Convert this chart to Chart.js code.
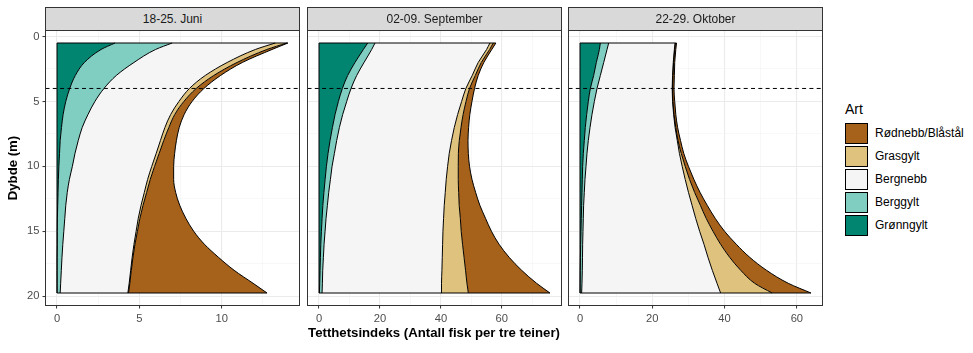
<!DOCTYPE html>
<html>
<head>
<meta charset="utf-8">
<script src="https://cdn.jsdelivr.net/npm/chart.js@4.4.1/dist/chart.umd.min.js"></script>
<style>
html,body{margin:0;padding:0;background:#fff;}
body{width:973px;height:353px;position:relative;overflow:hidden;font-family:'Liberation Sans',Arial,Helvetica,sans-serif;}
canvas{position:absolute;top:0;}
.strip{position:absolute;top:7px;height:24px;width:255px;box-sizing:border-box;border:1px solid #333333;background:#D9D9D9;color:#1A1A1A;font-size:12px;text-align:center;line-height:22px;z-index:2;}
.xtitle{position:absolute;left:45px;width:778px;top:325px;text-align:center;font-weight:bold;font-size:13.2px;line-height:16px;color:#000;}
.ltitle{position:absolute;left:845px;top:102px;font-size:14px;line-height:14px;color:#000;}
.lkey{position:absolute;left:845px;width:23px;height:21px;box-sizing:border-box;border:1px solid #000;}
.llab{position:absolute;left:875px;height:21px;line-height:21px;font-size:12px;color:#000;white-space:nowrap;}
</style>
</head>
<body>
<canvas id="c1" width="302" height="330" style="left:0px;width:302px;height:330px"></canvas>
<canvas id="c2" width="259" height="330" style="left:305px;width:259px;height:330px"></canvas>
<canvas id="c3" width="259" height="330" style="left:566px;width:259px;height:330px"></canvas>
<div id="strips"></div>
<div class="xtitle">Tetthetsindeks (Antall fisk per tre teiner)</div>
<div id="legend"></div>
<script>
// ---------- data ----------
const depths = [0.5,1,2,3,4,5,6,7,8,9,10,11,12,13,14,15,16,17,18,19,19.75];
const species = ['Grønngylt','Berggylt','Bergnebb','Grasgylt','Rødnebb/Blåstål'];
const speciesColors = ['#018571','#80CDC1','#F5F5F5','#DFC27D','#A6611A'];
const periods = ['18-25. Juni','02-09. September','22-29. Oktober'];
const refDepth = 4;

const gronngyltJuni = [3.52,2.67,1.66,1.11,0.77,0.53,0.37,0.27,0.19,0.15,0.11,0.08,0.06,0.04,0.02,0.01,0.01,0,0,0,0];
const berggyltJuni  = [3.47,3.31,3.01,2.49,2.08,1.77,1.51,1.26,1.10,0.94,0.82,0.67,0.56,0.49,0.45,0.40,0.34,0.30,0.26,0.22,0.19];
const bergnebbJuni  = [6.26,6.06,5.66,5.40,5.19,5.10,5.02,5.02,4.99,4.93,4.82,4.75,4.68,4.57,4.46,4.39,4.32,4.26,4.21,4.16,4.11];
const grasgyltJuni  = [0.70,0.70,0.60,0.52,0.41,0.30,0.25,0.24,0.20,0.18,0.17,0.16,0.14,0.12,0.10,0.08,0.06,0.05,0.04,0.04,0.04];
const rodnebbJuni   = [0.07,0.31,0.32,0.41,0.47,0.50,0.57,0.63,0.77,0.94,1.16,1.42,1.76,2.23,2.79,3.42,4.22,5.19,6.24,7.48,8.41];

const gronngyltSep = [15.97,14.55,11.8,9.4,7.66,6.35,5.26,4.4,3.62,2.96,2.42,2.0,1.6,1.25,1.0,0.78,0.58,0.45,0.34,0.23,0.12];
const berggyltSep  = [2.40,2.73,2.97,2.96,2.84,2.73,2.51,2.28,2.18,2.08,1.85,1.73,1.58,1.49,1.30,1.20,1.07,0.98,0.87,0.87,0.87];
const bergnebbSep  = [37.71,37.72,37.48,37.93,37.70,37.72,37.73,37.72,37.70,37.70,37.93,38.02,38.25,38.36,38.58,38.69,38.91,39.02,39.13,39.10,39.21];
const grasgyltSep  = [1.1,1.0,1.0,1.0,1.2,1.45,1.8,2.2,2.55,3.0,3.5,3.95,4.4,4.9,5.5,6.0,6.55,7.15,7.75,8.35,8.8];
const rodnebbSep   = [0.87,0.70,0.85,0.96,1.65,1.95,2.20,2.50,2.85,3.26,3.70,4.50,5.57,6.80,8.27,9.93,11.99,14.80,18.41,22.85,26.80];

const gronngyltOkt = [5.62,5.35,4.51,3.77,2.85,2.29,1.83,1.46,1.18,0.91,0.72,0.63,0.54,0.44,0.35,0.26,0.17,0.10,0.05,0.02,0];
const berggyltOkt  = [2.31,2.12,2.04,1.85,1.85,1.67,1.48,1.30,1.11,1.01,0.93,0.74,0.64,0.55,0.55,0.55,0.55,0.58,0.58,0.52,0.44];
const bergnebbOkt  = [18.37,18.63,19.25,19.98,20.80,21.64,22.59,23.54,24.61,25.58,26.62,27.73,28.82,30.01,31.10,32.29,33.58,34.72,35.97,37.36,38.46];
const grasgyltOkt  = [0.1,0.1,0.1,0.1,0.1,0.1,0.1,0.2,0.2,0.5,0.83,1.2,1.7,2.3,2.9,3.7,4.6,6.0,7.85,10.4,14.25];
const rodnebbOkt   = [0.3,0.3,0.3,0.4,0.4,0.5,0.5,0.5,0.7,0.7,0.9,1.2,1.5,1.9,2.5,3.2,4.35,5.55,7.15,9.3,10.75];

const yTicks = [0,2.5,5,7.5,10,12.5,15,17.5,20];
const yTickLabels = ['0','','5','','10','','15','','20'];
const xTicksJuni = [0,2.5,5,7.5,10,12.5];
const xTickLabelsJuni = ['0','','5','','10',''];
const xTicksSep = [0,10,20,30,40,50,60,70];
const xTickLabelsSep = ['0','','20','','40','','60',''];
const xTicksOkt = [0,10,20,30,40,50,60];
const xTickLabelsOkt = ['0','','20','','40','','60'];

// ---------- rendering ----------
Chart.defaults.font.family = "'Liberation Sans', Arial, Helvetica, sans-serif";

const decor = {
  id: 'decor',
  afterDatasetsDraw(chart) {
    const {ctx, chartArea: a, scales: {x, y}} = chart;
    const outer = chart.getDatasetMeta(chart.data.datasets.length - 1).data;
    const x0 = x.getPixelForValue(0);
    const first = outer[0], last = outer[outer.length - 1];
    ctx.save();
    ctx.beginPath(); ctx.rect(a.left, a.top, a.width, a.height); ctx.clip();
    ctx.strokeStyle = '#000'; ctx.lineWidth = 1;
    ctx.beginPath();
    ctx.moveTo(first.x, first.y); ctx.lineTo(x0, first.y);
    ctx.lineTo(x0, last.y); ctx.lineTo(last.x, last.y);
    ctx.stroke();
    const yd = y.getPixelForValue(refDepth);
    ctx.setLineDash([4, 3.3]);
    ctx.beginPath(); ctx.moveTo(a.left, yd); ctx.lineTo(a.right, yd); ctx.stroke();
    ctx.restore();
    ctx.save();
    ctx.strokeStyle = '#333333'; ctx.lineWidth = 1;
    ctx.strokeRect(a.left, a.top, a.width, a.height);
    ctx.restore();
  }
};

function makePanel(id, seriesList, xTicks, xLabels, first, padL) {
  const totals = depths.map((_, i) => seriesList.reduce((s, arr) => s + arr[i], 0));
  const xmax = Math.max(...totals);
  const dmin = Math.min(...depths), dmax = Math.max(...depths), dr = dmax - dmin;
  const datasets = seriesList.map((arr, k) => ({
    label: species[k],
    data: arr.map((v, i) => ({x: v, y: depths[i]})),
    backgroundColor: speciesColors[k],
    borderColor: '#000000',
    borderWidth: 1,
    fill: k === 0 ? 'origin' : '-1',
    pointRadius: 0,
    pointHoverRadius: 0,
    cubicInterpolationMode: 'monotone'
  }));
  const xMajor = v => xLabels[xTicks.indexOf(v)] !== '';
  const yMajor = v => yTickLabels[yTicks.indexOf(v)] !== '';
  return new Chart(document.getElementById(id), {
    type: 'line',
    data: {datasets},
    options: {
      indexAxis: 'y',
      responsive: false,
      animation: false,
      events: [],
      devicePixelRatio: 1,
      layout: {padding: {top: 30.5, left: padL, right: 2.5, bottom: 0}},
      plugins: {
        legend: {display: false},
        tooltip: {enabled: false},
        filler: {drawTime: 'beforeDatasetsDraw'}
      },
      scales: {
        x: {
          type: 'linear', stacked: true,
          min: -0.05 * xmax, max: 1.05 * xmax,
          afterBuildTicks: s => { s.ticks = xTicks.map(v => ({value: v})); },
          afterFit: s => { s.height = 24.5; },
          border: {display: false},
          grid: {
            color: c => (c.tick && xMajor(c.tick.value)) ? '#EBEBEB' : '#F3F3F3',
            lineWidth: c => (c.tick && xMajor(c.tick.value)) ? 1.1 : 0.6,
            drawTicks: true, tickLength: 3, tickWidth: 1,
            tickColor: c => (c.tick && xMajor(c.tick.value)) ? '#333333' : 'rgba(0,0,0,0)'
          },
          ticks: {
            autoSkip: false, maxRotation: 0, padding: 4,
            color: '#4D4D4D', font: {size: 11.2},
            callback: v => xLabels[xTicks.indexOf(v)]
          }
        },
        y: {
          type: 'linear', reverse: true,
          min: dmin - 0.05 * dr, max: dmax + 0.05 * dr,
          afterBuildTicks: s => { s.ticks = yTicks.map(v => ({value: v})); },
          afterFit: s => { s.width = first ? 45.5 : 0; },
          border: {display: false},
          title: first ? {display: true, text: 'Dybde (m)', color: '#000', font: {size: 13.2, weight: 'bold'}, padding: {top: 5.4, bottom: 0}} : {display: false},
          grid: {
            color: c => (c.tick && yMajor(c.tick.value)) ? '#EBEBEB' : '#F3F3F3',
            lineWidth: c => (c.tick && yMajor(c.tick.value)) ? 1.1 : 0.6,
            drawTicks: first, tickLength: 3, tickWidth: 1,
            tickColor: c => (c.tick && yMajor(c.tick.value)) ? '#333333' : 'rgba(0,0,0,0)'
          },
          ticks: {
            display: first, autoSkip: false, padding: 3,
            color: '#4D4D4D', font: {size: 11.2},
            callback: v => yTickLabels[yTicks.indexOf(v)]
          }
        }
      }
    },
    plugins: [decor]
  });
}

makePanel('c1', [gronngyltJuni, berggyltJuni, bergnebbJuni, grasgyltJuni, rodnebbJuni], xTicksJuni, xTickLabelsJuni, true, 0);
makePanel('c2', [gronngyltSep, berggyltSep, bergnebbSep, grasgyltSep, rodnebbSep], xTicksSep, xTickLabelsSep, false, 2.5);
makePanel('c3', [gronngyltOkt, berggyltOkt, bergnebbOkt, grasgyltOkt, rodnebbOkt], xTicksOkt, xTickLabelsOkt, false, 2.5);

// strips
const stripLefts = [45, 307, 568];
const stripBox = document.getElementById('strips');
periods.forEach((p, i) => {
  const d = document.createElement('div');
  d.className = 'strip';
  d.style.left = stripLefts[i] + 'px';
  d.textContent = p;
  stripBox.appendChild(d);
});

// legend (top: Rødnebb/Blåstål ... bottom: Grønngylt)
const lg = document.getElementById('legend');
const lt = document.createElement('div');
lt.className = 'ltitle'; lt.textContent = 'Art';
lg.appendChild(lt);
for (let j = 0; j < species.length; j++) {
  const k = species.length - 1 - j;
  const top = 123.3 + j * 23;
  const key = document.createElement('div');
  key.className = 'lkey';
  key.style.top = top + 'px';
  key.style.background = speciesColors[k];
  lg.appendChild(key);
  const lab = document.createElement('div');
  lab.className = 'llab';
  lab.style.top = top + 'px';
  lab.textContent = species[k];
  lg.appendChild(lab);
}
</script>
</body>
</html>
